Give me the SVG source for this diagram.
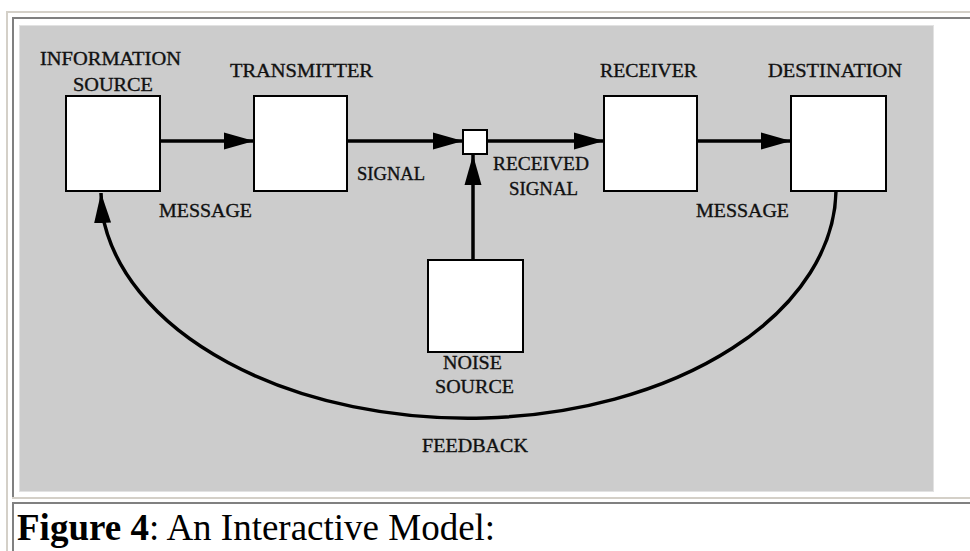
<svg xmlns="http://www.w3.org/2000/svg" width="970" height="551" viewBox="0 0 970 551">
<style>
.box{fill:#ffffff;stroke:#000000;stroke-width:2}
.lbl{font-family:"Liberation Serif","Times New Roman",serif;font-size:19px;fill:#111111;stroke:#111111;stroke-width:0.35}
.conn{fill:none;stroke:#000000;stroke-width:3.5}
.cap{font-family:"Liberation Serif","Times New Roman",serif;font-size:37px;fill:#000}
</style>
<defs>
<marker id="ah" markerUnits="userSpaceOnUse" markerWidth="32" markerHeight="20" refX="30" refY="10" orient="auto" viewBox="0 0 32 20">
<path d="M0,1.5 L30,10 L0,18.5 z" fill="#000"/>
</marker>
</defs>
<rect width="970" height="551" fill="#ffffff"/>
<g id="frame">
<rect x="6" y="11" width="964" height="2" fill="#d4d0c8"/>
<rect x="6" y="11" width="2" height="540" fill="#d4d0c8"/>
<rect x="12" y="17" width="958" height="2" fill="#808080"/>
<rect x="12" y="17" width="2" height="480" fill="#808080"/>
<rect x="12" y="497" width="958" height="2" fill="#d4d0c8"/>
<rect x="12" y="502" width="958" height="2" fill="#808080"/>
<rect x="12" y="502" width="2" height="49" fill="#808080"/>
<rect x="19.5" y="25.5" width="914" height="466" fill="#cccccc" stroke="#e2e2e2" stroke-width="1"/>
</g>
<g id="connectors">
<line class="conn" x1="160" y1="141" x2="254" y2="141" marker-end="url(#ah)"/>
<line class="conn" x1="347" y1="141" x2="463" y2="141" marker-end="url(#ah)"/>
<line class="conn" x1="487" y1="141" x2="604" y2="141" marker-end="url(#ah)"/>
<line class="conn" x1="697" y1="141" x2="791" y2="141" marker-end="url(#ah)"/>
<line class="conn" x1="473" y1="260" x2="473" y2="155" marker-end="url(#ah)"/>
<path class="conn" d="M836,191 A368,230 0 0 1 102,212 L101,193" marker-end="url(#ah)"/>
</g>
<g id="information-source">
<rect class="box" x="66" y="96" width="94" height="95"/>
<text class="lbl" x="40" y="65" textLength="141" lengthAdjust="spacingAndGlyphs">INFORMATION</text>
<text class="lbl" x="73" y="91" textLength="80" lengthAdjust="spacingAndGlyphs">SOURCE</text>
</g>
<g id="transmitter">
<rect class="box" x="254" y="96" width="93" height="95"/>
<text class="lbl" x="230" y="77" textLength="143" lengthAdjust="spacingAndGlyphs">TRANSMITTER</text>
</g>
<g id="junction">
<rect class="box" x="463" y="130" width="24" height="24"/>
</g>
<g id="receiver">
<rect class="box" x="604" y="96" width="93" height="95"/>
<text class="lbl" x="600" y="77" textLength="97" lengthAdjust="spacingAndGlyphs">RECEIVER</text>
</g>
<g id="destination">
<rect class="box" x="791" y="96" width="95" height="95"/>
<text class="lbl" x="768" y="77" textLength="134" lengthAdjust="spacingAndGlyphs">DESTINATION</text>
</g>
<g id="noise-source">
<rect class="box" x="428" y="260" width="95" height="92"/>
<text class="lbl" x="443" y="369" textLength="59" lengthAdjust="spacingAndGlyphs">NOISE</text>
<text class="lbl" x="435" y="393" textLength="79" lengthAdjust="spacingAndGlyphs">SOURCE</text>
</g>
<g id="labels">
<text class="lbl" x="357" y="180" textLength="68" lengthAdjust="spacingAndGlyphs">SIGNAL</text>
<text class="lbl" x="159" y="217" textLength="93" lengthAdjust="spacingAndGlyphs">MESSAGE</text>
<text class="lbl" x="493" y="170" textLength="96" lengthAdjust="spacingAndGlyphs">RECEIVED</text>
<text class="lbl" x="509" y="195" textLength="69" lengthAdjust="spacingAndGlyphs">SIGNAL</text>
<text class="lbl" x="696" y="217" textLength="93" lengthAdjust="spacingAndGlyphs">MESSAGE</text>
<text class="lbl" x="422" y="452" textLength="106" lengthAdjust="spacingAndGlyphs">FEEDBACK</text>
</g>
<g id="caption">
<text class="cap" x="17" y="540"><tspan font-weight="bold">Figure 4</tspan>: An Interactive Model:</text>
</g>
</svg>
